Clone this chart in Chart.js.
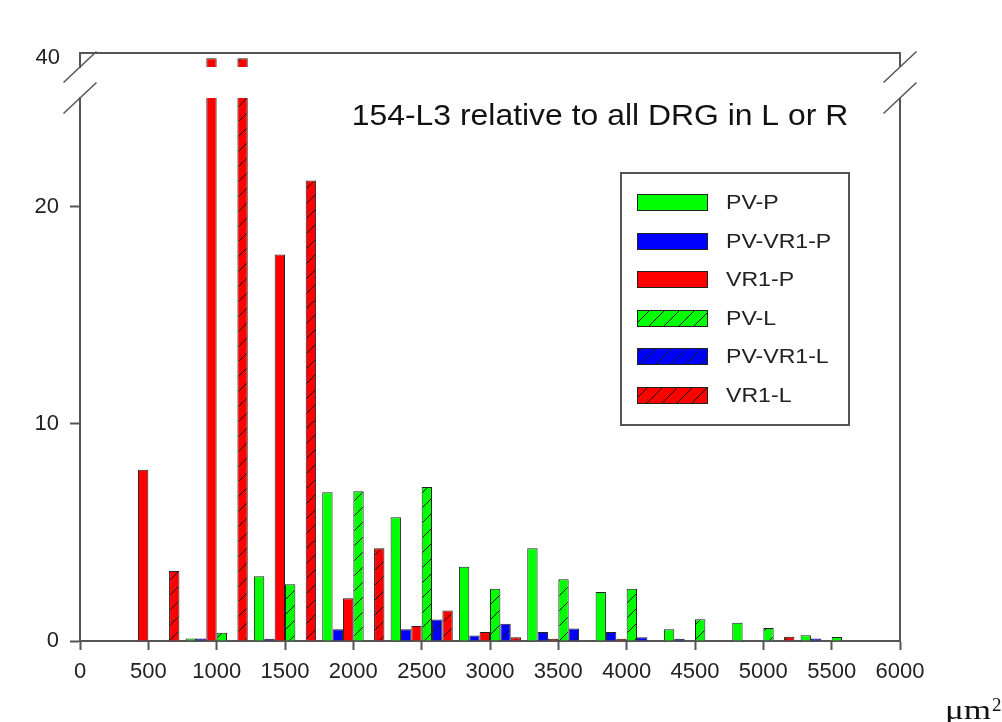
<!DOCTYPE html>
<html>
<head>
<meta charset="utf-8">
<script src="https://cdn.jsdelivr.net/npm/chart.js@4"></script>
<style>
  html, body { margin: 0; padding: 0; background: #fff; }
  #wrap { width: 1002px; height: 722px; position: relative; }
</style>
</head>
<body>
<div id="wrap"><canvas id="chart"></canvas></div>
<script>
// size bins (centre of each group of six bars), um^2
const bins = [500, 1000, 1500, 2000, 2500, 3000, 3500, 4000, 4500, 5000, 5500];
// percent of cells per bin; null = no bar drawn
const pvP    = [null, 0.12, 2.98, 6.85, 5.7, 3.42, 4.27, 2.26, 0.54, 0.84, 0.26];
const pvVr1P = [null, 0.12, 0.1, 0.54, 0.54, 0.25, 0.42, 0.41, 0.1, null, 0.12];
const vr1P   = [7.88, 40, 17.8, 1.97, 0.69, 0.41, 0.1, 0.1, null, null, null];
const pvL    = [null, 0.38, 2.61, 6.89, 7.09, 2.4, 2.84, 2.41, 1.0, 0.6, 0.18];
const pvVr1L = [null, null, null, null, 0.99, 0.79, 0.57, 0.17, null, null, null];
const vr1L   = [3.22, 40, 21.2, 4.27, 1.4, 0.17, null, null, null, 0.19, null];

const names = ['PV-P', 'PV-VR1-P', 'VR1-P', 'PV-L', 'PV-VR1-L', 'VR1-L'];
const series = [pvP, pvVr1P, vr1P, pvL, pvVr1L, vr1L];
const colors = ['#00ff00', '#0000ff', '#ff0000', '#00ff00', '#0000ff', '#ff0000'];
const hatched = [false, false, false, true, true, true];

const xTicks = [0, 500, 1000, 1500, 2000, 2500, 3000, 3500, 4000, 4500, 5000, 5500, 6000];
const yTicksLow = [0, 10, 20];
const yTicksHigh = [40];

const title = '154-L3 relative to all DRG in L or R';
const axisGray = '#555';
const textColor = '#222';
const tickFont = { family: 'Liberation Sans, Arial, sans-serif', size: 22 };

const canvas = document.getElementById('chart');
const mainCtx = canvas.getContext('2d');

function hatch(color) {
  const s = 15;
  const c = document.createElement('canvas');
  c.width = s; c.height = s;
  const g = c.getContext('2d');
  g.fillStyle = color;
  g.fillRect(0, 0, s, s);
  g.strokeStyle = '#111';
  g.lineWidth = 1;
  g.beginPath();
  g.moveTo(0, s); g.lineTo(s, 0);
  g.moveTo(-1, 1); g.lineTo(1, -1);
  g.moveTo(s - 1, s + 1); g.lineTo(s + 1, s - 1);
  g.stroke();
  return mainCtx.createPattern(c, 'repeat');
}

const fills = colors.map((c, i) => hatched[i] ? hatch(c) : c);

// every series goes on the lower scale and again on the small upper scale (axis break)
const datasets = [];
['y', 'yTop'].forEach(axis => {
  names.forEach((name, i) => {
    datasets.push({
      label: name,
      stack: name,
      yAxisID: axis,
      data: bins.map((x, k) => ({ x, y: series[i][k] })),
      backgroundColor: fills[i],
      borderColor: '#222',
      borderWidth: 1,
      categoryPercentage: 0.91,
      barPercentage: 1
    });
  });
});

const fixTicks = list => scale => { scale.ticks = list.map(v => ({ value: v })); };

const decor = {
  id: 'decor',
  beforeDatasetDraw(chart, args) {
    const ys = args.meta.yScale, a = chart.chartArea, ctx = chart.ctx;
    ctx.save();
    ctx.beginPath();
    ctx.rect(a.left, ys.top, a.right - a.left, ys.bottom - ys.top);
    ctx.clip();
  },
  afterDatasetDraw(chart) {
    chart.ctx.restore();
  },
  afterDraw(chart) {
    const { ctx, chartArea: a, scales } = chart;
    const up = scales.yTop, low = scales.y;
    ctx.save();

    // rest of the frame
    ctx.strokeStyle = axisGray;
    ctx.lineWidth = 2;
    ctx.beginPath();
    ctx.moveTo(a.left, up.top); ctx.lineTo(a.right, up.top); ctx.lineTo(a.right, up.bottom);
    ctx.moveTo(a.right, low.top); ctx.lineTo(a.right, low.bottom);
    ctx.stroke();

    // break marks
    ctx.lineWidth = 1.5;
    ctx.beginPath();
    [a.left, a.right].forEach(x => {
      [up.bottom, low.top].forEach(y => {
        ctx.moveTo(x - 16.5, y + 15.5);
        ctx.lineTo(x + 16.5, y - 15.5);
      });
    });
    ctx.stroke();

    // title
    ctx.fillStyle = '#111';
    ctx.font = '29px "Liberation Sans", Arial, sans-serif';
    ctx.textAlign = 'center';
    ctx.textBaseline = 'alphabetic';
    ctx.save();
    ctx.translate(a.left + 520, a.top + 72);
    ctx.scale(1.1, 1);
    ctx.fillText(title, 0, 0);
    ctx.restore();

    // legend
    const lx = a.right - 279, ly = a.top + 120, lw = 228, lh = 252;
    ctx.fillStyle = '#fff';
    ctx.fillRect(lx, ly, lw, lh);
    ctx.strokeStyle = axisGray;
    ctx.lineWidth = 2;
    ctx.strokeRect(lx, ly, lw, lh);
    ctx.font = '21px "Liberation Sans", Arial, sans-serif';
    ctx.textAlign = 'left';
    ctx.textBaseline = 'middle';
    names.forEach((name, i) => {
      const sy = Math.round(ly + 21 + i * 38.5);
      ctx.fillStyle = chart.data.datasets[i].backgroundColor;
      ctx.fillRect(lx + 16, sy, 70, 16);
      ctx.strokeStyle = '#222';
      ctx.lineWidth = 1;
      ctx.strokeRect(lx + 16.5, sy + 0.5, 70, 16);
      ctx.fillStyle = textColor;
      ctx.save();
      ctx.translate(lx + 105, sy + 9);
      ctx.scale(1.1, 1);
      ctx.fillText(name, 0, 0);
      ctx.restore();
    });

    // unit label
    ctx.fillStyle = '#111';
    ctx.textBaseline = 'alphabetic';
    ctx.save();
    ctx.translate(a.right + 45, a.bottom + 78);
    ctx.scale(1.3, 1);
    ctx.font = '27px "Liberation Serif", "Times New Roman", serif';
    ctx.fillText('\u03bcm', 0, 0);
    ctx.restore();
    ctx.font = '19px "Liberation Serif", "Times New Roman", serif';
    ctx.fillText('2', a.right + 92, a.bottom + 70);

    ctx.restore();
  }
};

new Chart(canvas, {
  type: 'bar',
  data: { datasets },
  plugins: [decor],
  options: {
    responsive: true,
    maintainAspectRatio: false,
    animation: false,
    devicePixelRatio: 1,
    layout: { padding: { left: 0, top: 53, right: 102, bottom: 0 } },
    plugins: { legend: { display: false }, tooltip: { enabled: false } },
    scales: {
      x: {
        type: 'linear',
        min: 0,
        max: 6000,
        offset: false,
        afterBuildTicks: fixTicks(xTicks),
        afterFit: s => { s.height = 81; },
        grid: { offset: false, drawOnChartArea: false, tickLength: 9, color: axisGray, tickWidth: 2 },
        border: { color: axisGray, width: 2 },
        ticks: { font: tickFont, color: textColor, padding: 9, maxRotation: 0, autoSkip: false, callback: v => String(v) }
      },
      yTop: {
        type: 'linear',
        position: 'left',
        stack: 'v',
        stackWeight: 14,
        weight: 3,
        min: 39.5,
        max: 40.3,
        afterBuildTicks: fixTicks(yTicksHigh),
        afterFit: s => { s.width = 80; },
        grid: { display: false },
        border: { color: axisGray, width: 2 },
        ticks: { font: tickFont, color: textColor, padding: 12, callback: v => String(v) }
      },
      yGap: {
        type: 'linear',
        position: 'left',
        stack: 'v',
        stackWeight: 31,
        weight: 2,
        min: 0,
        max: 1,
        afterFit: s => { s.width = 80; },
        grid: { display: false },
        border: { display: false },
        ticks: { display: false }
      },
      y: {
        type: 'linear',
        position: 'left',
        stack: 'v',
        stackWeight: 543,
        weight: 1,
        min: 0,
        max: 25,
        afterBuildTicks: fixTicks(yTicksLow),
        afterFit: s => { s.width = 80; },
        grid: { drawOnChartArea: false, tickLength: 10, color: axisGray, tickWidth: 2 },
        border: { color: axisGray, width: 2 },
        ticks: { font: tickFont, color: textColor, padding: 11, callback: v => String(v) }
      }
    }
  }
});
</script>
</body>
</html>
